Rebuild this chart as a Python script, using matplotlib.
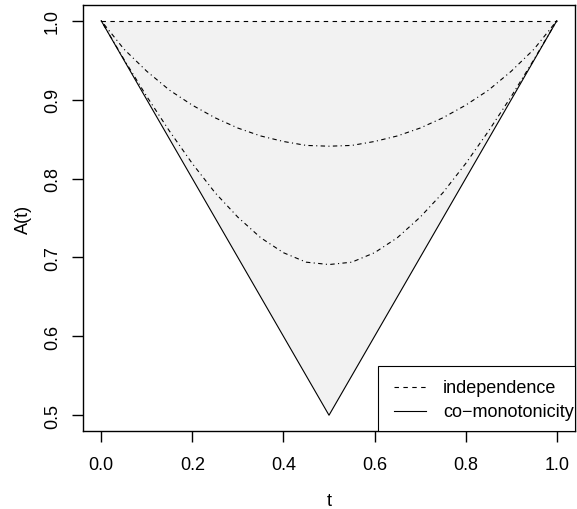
import matplotlib
matplotlib.use('Agg')
import matplotlib.pyplot as plt
from matplotlib.patches import Rectangle

plt.rcParams['font.family'] = ['Liberation Sans', 'DejaVu Sans']
plt.rcParams['lines.scale_dashes'] = False

# Pickands dependence functions on a grid of t
t = [0.00, 0.05, 0.10, 0.15, 0.20, 0.25, 0.30, 0.35, 0.40, 0.45, 0.50,
     0.55, 0.60, 0.65, 0.70, 0.75, 0.80, 0.85, 0.90, 0.95, 1.00]
a_weak = [1.000, 0.964, 0.936, 0.912, 0.893, 0.877, 0.864, 0.854, 0.847, 0.842, 0.841,
          0.842, 0.847, 0.854, 0.864, 0.877, 0.893, 0.912, 0.936, 0.964, 1.000]
a_strong = [1.000, 0.951, 0.904, 0.860, 0.819, 0.782, 0.751, 0.725, 0.706, 0.694, 0.691,
            0.694, 0.706, 0.725, 0.751, 0.782, 0.819, 0.860, 0.904, 0.951, 1.000]

# bounds: independence A(t)=1, co-monotonicity A(t)=max(t, 1-t)
indep_t = [0.0, 1.0]
indep_a = [1.0, 1.0]
comono_t = [0.0, 0.5, 1.0]
comono_a = [1.0, 0.5, 1.0]

xticks = [0.0, 0.2, 0.4, 0.6, 0.8, 1.0]
yticks = [0.5, 0.6, 0.7, 0.8, 0.9, 1.0]
legend_labels = ['independence', 'co\u2212monotonicity']

fig = plt.figure(figsize=(5.77, 5.10), dpi=100)
ax = fig.add_axes([83 / 577, 1 - 432 / 510, 492 / 577, 426 / 510])

lw = 0.8
dash = (3.2, 3.2)
dashdot = (0.8, 2.4, 3.2, 2.4)
ax.fill_between(comono_t, comono_a, 1, color='#f2f2f2', lw=0)
ax.plot(indep_t, indep_a, color='black', lw=lw, dashes=dash)
ax.plot(comono_t, comono_a, color='black', lw=lw)
ax.plot(t, a_weak, color='black', lw=lw, dashes=dashdot)
ax.plot(t, a_strong, color='black', lw=lw, dashes=dashdot)

ax.set_xlim(-0.04, 1.04)
ax.set_ylim(0.48, 1.02)
ax.set_xticks(xticks)
ax.set_xticklabels(['%.1f' % v for v in xticks])
ax.set_yticks(yticks)
ax.set_yticklabels(['%.1f' % v for v in yticks], rotation=90, va='center')
ax.tick_params(direction='out', length=8, width=1.0, labelsize=13)
ax.tick_params(axis='x', pad=10)
ax.tick_params(axis='y', pad=8)
for s in ax.spines.values():
    s.set_linewidth(1.0)

ax.set_xlabel('t', fontsize=13, labelpad=14)
ax.set_ylabel('A(t)', fontsize=13, labelpad=8.5)

# legend box in the bottom-right corner, R style (text may run to the frame)
tr = ax.transAxes
ax.add_patch(Rectangle((0.599, 0.0), 0.401, 0.153, transform=tr, facecolor='white',
                       edgecolor='black', lw=0.8, zorder=5, clip_on=False))
rows = [0.1026, 0.0462]
styles = [dash, None]
for y, label, d in zip(rows, legend_labels, styles):
    line, = ax.plot([0.633, 0.698], [y, y], transform=tr, color='black', lw=lw,
                    zorder=6, clip_on=False)
    if d is not None:
        line.set_dashes(d)
    ax.text(0.732, y, label, transform=tr, fontsize=13, va='center', ha='left', zorder=6)

fig.savefig('out.png', dpi=100)
